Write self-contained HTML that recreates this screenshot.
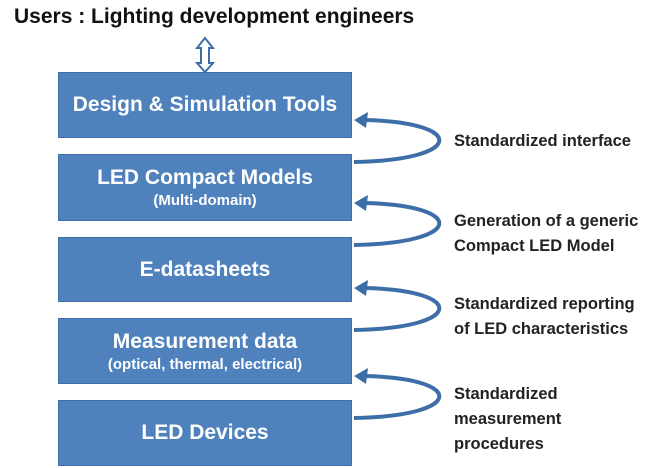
<!DOCTYPE html><html><head><style>
body{margin:0;width:662px;height:468px;background:#fff;font-family:"Liberation Sans",sans-serif;position:relative;overflow:hidden}
.b{position:absolute;left:58px;width:294px;background:#4f81bd;border:1px solid #3d6ea8;color:#fff;font-weight:bold;text-align:center;box-sizing:border-box;display:flex;flex-direction:column;justify-content:center;font-size:21px}
.b span{font-size:15px;margin-top:2px}
.t{position:absolute;left:454px;font-size:16.5px;font-weight:bold;color:#222;line-height:25px}
</style></head><body>
<div style="position:absolute;left:14px;top:5px;font-size:21px;font-weight:bold;color:#111">Users : Lighting development engineers</div>
<svg width="662" height="468" style="position:absolute;left:0;top:0">
<path d="M205 38 L213 48 L209 48 L209 63 L213 63 L205 72 L197 63 L201 63 L201 48 L197 48 Z" fill="#fff" stroke="#3d6ea8" stroke-width="2"/>
<g fill="none" stroke="#3d6ea8" stroke-width="4">
<path d="M354 162 C466 160 466 122 364 120"/>
<path d="M354 245 C466 243 466 205 364 203"/>
<path d="M354 330 C466 328 466 290 364 288"/>
<path d="M354 418 C466 416 466 378 364 376"/>
</g>
<g fill="#3d6ea8">
<path d="M354 120 L368 112 L366 128 Z"/>
<path d="M354 203 L368 195 L366 211 Z"/>
<path d="M354 288 L368 280 L366 296 Z"/>
<path d="M354 376 L368 368 L366 384 Z"/>
</g>
</svg>
<div class="b" style="top:72px;height:66px">Design &amp; Simulation Tools</div>
<div class="b" style="top:154px;height:67px">LED Compact Models<span>(Multi-domain)</span></div>
<div class="b" style="top:237px;height:65px">E-datasheets</div>
<div class="b" style="top:318px;height:66px">Measurement data<span>(optical, thermal, electrical)</span></div>
<div class="b" style="top:400px;height:66px">LED Devices</div>
<div class="t" style="top:129px">Standardized interface</div>
<div class="t" style="top:209px">Generation of a generic<br>Compact LED Model</div>
<div class="t" style="top:292px">Standardized reporting<br>of LED characteristics</div>
<div class="t" style="top:382px">Standardized<br>measurement<br>procedures</div>
</body></html>
